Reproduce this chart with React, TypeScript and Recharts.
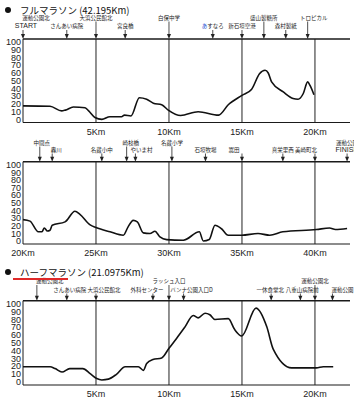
import { LineChart, Line, XAxis, YAxis, ReferenceLine } from 'recharts';

const FONT = '"Noto Sans CJK JP", "Noto Sans", sans-serif';
const ELEV_TICKS = [0, 10, 20, 30, 40, 50, 60, 70, 80, 90, 100];

// full marathon, first half (km / elevation m)
const fullKmA = [0, 1.85, 2.65, 2.9, 3.45, 4.25, 4.5, 4.93, 5.4, 5.95, 6.75, 6.95, 7.4, 7.97, 8.47, 8.93, 9.5, 9.95, 10.8, 12.0, 13.4, 14.06, 15.0, 15.65, 16.2, 16.58, 16.8, 17.03, 17.83, 18.5, 18.84, 19.2, 19.5, 19.66, 19.93];
const fullElevA = [17.5, 17, 11, 12, 16, 15, 11, 2.5, 0, 3.5, 3.5, 5.5, 4.5, 28, 26, 21, 19, 12, 5, 10, 5.5, 19, 31, 38.6, 59, 63.5, 60, 48.5, 35.6, 27, 26, 33.5, 48.5, 44, 32];

// full marathon, second half
const fullKmB = [20, 20.48, 21.05, 21.3, 21.46, 21.67, 21.85, 22.0, 22.88, 23.56, 23.9, 24.6, 25.0, 25.96, 26.87, 27.2, 27.55, 27.83, 28.24, 28.7, 29.04, 29.38, 29.84, 30.98, 32.08, 32.35, 32.76, 33.15, 33.6, 34.06, 34.98, 36.1, 36.9, 37.8, 40.1, 41.0, 41.4, 42.2];
const fullElevB = [28, 26, 12, 12, 17, 13, 14, 20.7, 25, 39, 35, 21, 17.6, 12, 7.5, 18.5, 27, 25, 10.6, 9.7, 12.8, 5.3, 1.8, 1, 12, 0, 2, 20.7, 16, 7.5, 7.5, 9.7, 7.5, 12, 15, 17, 15, 16.4];

// half marathon
const halfKm = [0, 1.85, 2.2, 2.67, 3.2, 4.1, 4.6, 5.05, 5.4, 5.85, 6.4, 7.0, 7.9, 8.25, 8.47, 8.9, 9.5, 10.0, 10.53, 11.1, 11.66, 12.0, 12.47, 12.8, 13.15, 14.06, 14.5, 14.98, 15.96, 16.7, 17.14, 18.4, 20.1, 20.57, 21.25];
const halfElev = [19.4, 19.4, 17, 12.6, 17, 17, 10.6, 4.3, 2.5, 3.5, 9.7, 19.4, 19.4, 14.7, 23.5, 28.6, 30.7, 43, 56, 70.5, 85, 82, 88, 86, 80, 81, 67, 58.8, 94.5, 70.5, 42, 18, 18, 19.4, 19.4];

// course landmarks (upper / lower label rows)
const fullUpperA = [
  { km: 0, name: '運動公園北' },
  { km: 5, name: '大浜公民館北' },
  { km: 10, name: '白保中学' },
  { km: 16.5, name: '盛山製糖所' },
  { km: 19.5, name: 'トロピカル' },
];
const fullLowerA = [
  { km: 0, name: 'START' },
  { km: 3, name: 'さんあい病院' },
  { km: 7, name: '宮良橋' },
  { km: 13, name: 'あすなろ' },
  { km: 15, name: '新石垣空港' },
  { km: 18, name: '森村製紙' },
];
const fullUpperB = [
  { km: 21.15, name: '中間点' },
  { km: 27.1, name: '崎枝橋' },
  { km: 30.2, name: '名蔵小学' },
  { km: 42.2, name: '運動公園' },
];
const fullLowerB = [
  { km: 22, name: '轟川' },
  { km: 25.4, name: '名蔵小中' },
  { km: 27.7, name: 'やいま村' },
  { km: 32.5, name: '石垣牧場' },
  { km: 35, name: '嵩田' },
  { km: 37.8, name: '真栄里西' },
  { km: 40, name: '美崎町北' },
  { km: 42.2, name: 'FINISH' },
];
const halfUpper = [
  { km: 0.95, name: '運動公園北' },
  { km: 10, name: 'ラッシュ入口' },
  { km: 20, name: '運動公園北' },
];
const halfLower = [
  { km: 3, name: 'さんあい病院' },
  { km: 5, name: '大浜公民館北' },
  { km: 8.9, name: '外科センター' },
  { km: 11, name: 'バンナ公園入口D' },
  { km: 17, name: '一休食堂北' },
  { km: 19, name: '八重山病院前' },
  { km: 21.2, name: '運動公園' },
];

const KM_LINES_A = [5, 10, 15, 20];
const KM_LINES_B = [25, 30, 35, 40];
const KM_TICKS_A = [5, 10, 15, 20];
const KM_TICKS_B = [20, 25, 30, 35, 40];

// small nudges so neighbouring labels don't collide
const LABEL_DX: Record<string, number> = {
  'さんあい病院|half': 3,
  '大浜公民館北|half': 8,
  '運動公園北|halfstart': 13,
  '外科センター|half': -6,
  'バンナ公園入口D|half': 8,
  '一休食堂北|half': -1,
  '八重山病院前|half': 2,
  '運動公園|half': 10,
  'START|fullA': 3,
  '運動公園北|fullAstart': 13,
  'トロピカル|fullA': 6,
  '美崎町北|full': -9,
  '中間点|full': 2,
  '轟川|full': 4,
  'やいま村|full': 6,
  '崎枝橋|full': 4,
  '嵩田|full': -8,
};

const toRows = (km: number[], elev: number[]) => km.map((k, i) => ({ km: k, elev: elev[i] }));

type Marker = { km: number; name: string };

function makeMarkerTick(upper: Marker[], lower: Marker[], axisY: number, upperY: number, lowerY: number, tag: string) {
  return (props: any) => {
    const { x, payload } = props;
    const v = payload.value;
    const up = upper.find((m) => m.km === v);
    const lo = lower.find((m) => m.km === v);
    const startY = (lo ? lowerY : upperY) + 2;
    const dxUp = up ? LABEL_DX[`${up.name}|${tag}${v < 2 ? 'start' : ''}`] ?? 0 : 0;
    const dxLo = lo ? LABEL_DX[`${lo.name}|${tag}`] ?? 0 : 0;
    const latin = lo && /^[A-Z]/.test(lo.name);
    return (
      <g>
        {up && (
          <text x={x + dxUp} y={upperY} textAnchor="middle" fontSize={5.5} fill="#222" fontFamily={FONT}>
            {up.name}
          </text>
        )}
        {lo && (
          <text x={x + dxLo} y={lowerY} textAnchor="middle" fontSize={latin ? 7 : 5.5} fill="#222" fontFamily={latin ? 'Liberation Sans, Arial, sans-serif' : FONT}>
            {lo.name.startsWith('あ') ? (
              <>
                <tspan fill="#2a4fd0">{lo.name[0]}</tspan>
                {lo.name.slice(1)}
              </>
            ) : (
              lo.name
            )}
          </text>
        )}
        <line x1={x} x2={x} y1={startY} y2={axisY - 4} stroke="#222" strokeWidth={0.8} />
        <path d={`M${x - 2},${axisY - 5} L${x + 2},${axisY - 5} L${x},${axisY} Z`} fill="#222" />
      </g>
    );
  };
}

interface ProfileProps {
  rows: { km: number; elev: number }[];
  domain: [number, number];
  upper: Marker[];
  lower: Marker[];
  kmLines: number[];
  kmTicks: number[];
  topH: number;
  plotH: number;
  upperY: number;
  lowerY: number;
  tag: string;
}

function Profile({ rows, domain, upper, lower, kmLines, kmTicks, topH, plotH, upperY, lowerY, tag }: ProfileProps) {
  const botH = 16;
  const markerKms = Array.from(new Set([...upper, ...lower].map((m) => m.km))).sort((a, b) => a - b);
  return (
    <LineChart width={354} height={topH + plotH + botH} data={rows} margin={{ top: 0, right: 4, bottom: 0, left: 0 }}>
      <XAxis
        xAxisId="top"
        orientation="top"
        type="number"
        dataKey="km"
        domain={domain}
        allowDataOverflow
        ticks={markerKms}
        interval={0}
        height={topH}
        tickLine={false}
        axisLine={{ stroke: '#1a1a1a', strokeWidth: 1.5 }}
        tick={makeMarkerTick(upper, lower, topH, upperY, lowerY, tag)}
      />
      <XAxis
        type="number"
        dataKey="km"
        domain={domain}
        allowDataOverflow
        ticks={kmTicks}
        interval={0}
        height={botH}
        tickLine={false}
        tickSize={4}
        tickMargin={2}
        axisLine={{ stroke: '#1a1a1a', strokeWidth: 1.2 }}
        tickFormatter={(v) => `${v}Km`}
        tick={{ fontSize: 9, fill: '#222', fontFamily: 'Liberation Sans, Arial, sans-serif' }}
      />
      <YAxis
        type="number"
        domain={[-4, 104]}
        ticks={ELEV_TICKS}
        interval={0}
        width={23}
        tickLine={false}
        tickSize={2}
        tickMargin={0}
        axisLine={{ stroke: '#1a1a1a', strokeWidth: 1 }}
        tick={{ fontSize: 9, fill: '#222', fontFamily: 'Liberation Sans, Arial, sans-serif' }}
      />
      {kmLines.map((k) => (
        <ReferenceLine key={k} x={k} stroke="#222" strokeWidth={1} />
      ))}
      <Line type="monotone" dataKey="elev" stroke="#111" strokeWidth={1.6} dot={false} isAnimationActive={false} />
    </LineChart>
  );
}

function Title({ top, text, underline }: { top: number; text: string; underline?: number }) {
  return (
    <div style={{ position: 'absolute', left: 0, top, width: 354, height: 12, fontFamily: FONT, fontSize: 9.5, color: '#111', lineHeight: '12px' }}>
      <span style={{ position: 'absolute', left: 5, top: 3, width: 6, height: 6, borderRadius: 3, background: '#111' }} />
      <span style={{ position: 'absolute', left: 20, top: 0, whiteSpace: 'nowrap' }}>{text}</span>
      {underline ? (
        <span style={{ position: 'absolute', left: 13, top: 11.5, width: underline, height: 2, background: '#e02a2a' }} />
      ) : null}
    </div>
  );
}

export default function App() {
  return (
    <div style={{ position: 'absolute', left: 0, top: 0, width: 354, height: 400, background: '#fff', overflow: 'hidden' }}>
      <div style={{ position: 'absolute', left: 0, top: 0 }}>
        <Profile rows={toRows(fullKmA, fullElevA)} domain={[0, 22.4]} upper={fullUpperA} lower={fullLowerA} kmLines={KM_LINES_A} kmTicks={KM_TICKS_A} topH={39} plotH={83.5} upperY={19.5} lowerY={28} tag="fullA" />
      </div>
      <div style={{ position: 'absolute', left: 0, top: 124 }}>
        <Profile rows={toRows(fullKmB, fullElevB)} domain={[20, 42.4]} upper={fullUpperB} lower={fullLowerB} kmLines={KM_LINES_B} kmTicks={KM_TICKS_B} topH={37.7} plotH={82.3} upperY={20.5} lowerY={27.5} tag="full" />
      </div>
      <div style={{ position: 'absolute', left: 0, top: 262 }}>
        <Profile rows={toRows(halfKm, halfElev)} domain={[0, 22.4]} upper={halfUpper} lower={halfLower} kmLines={KM_LINES_A} kmTicks={KM_TICKS_A} topH={38.7} plotH={84.3} upperY={21} lowerY={29.5} tag="half" />
      </div>
      <Title top={4} text="フルマラソン (42.195Km)" />
      <Title top={266} text="ハーフマラソン (21.0975Km)" underline={55} />
    </div>
  );
}
